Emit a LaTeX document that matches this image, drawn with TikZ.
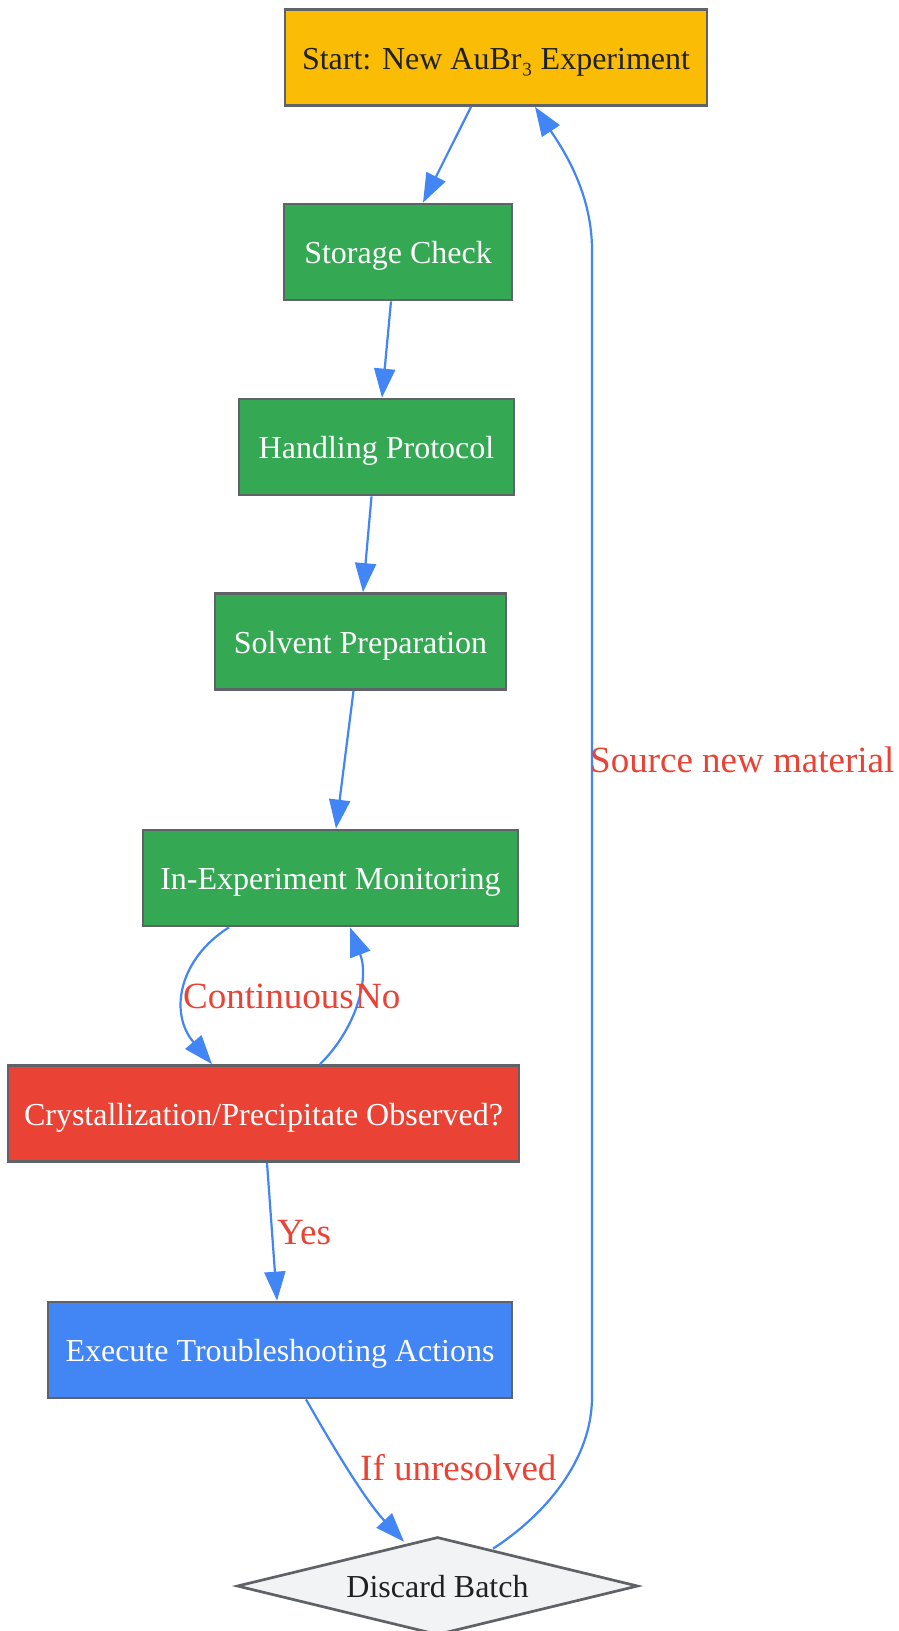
\documentclass[tikz,border=0pt]{standalone}
\usepackage{fontspec}
\setmainfont{Liberation Serif}
\usetikzlibrary{arrows.meta,shapes.geometric,calc}
\definecolor{cyellow}{HTML}{FBBC05}
\definecolor{cgreen}{HTML}{34A853}
\definecolor{cred}{HTML}{EA4335}
\definecolor{cblue}{HTML}{4285F4}
\definecolor{cgrayfill}{HTML}{F1F3F4}
\definecolor{cborder}{HTML}{5F6368}
\definecolor{cdark}{HTML}{202124}
\tikzset{
  box/.style={draw=cborder, line width=2.7pt, rectangle, inner sep=0pt,
    minimum height=96pt, text height=23pt, text depth=0pt,
    font=\fontsize{32}{36}\selectfont},
  startbox/.style={box, fill=cyellow, text=cdark},
  greenbox/.style={box, fill=cgreen, text=white},
  redbox/.style={box, fill=cred, text=white},
  bluebox/.style={box, fill=cblue, text=white},
  discardbox/.style={draw=cborder, line width=2.7pt, diamond, aspect=4.09, inner sep=0pt,
    fill=cgrayfill, text=cdark, minimum width=401pt, minimum height=98pt,
    text height=23pt, text depth=0pt, font=\fontsize{32}{36}\selectfont},
  flow/.style={draw=cblue, line width=2.2pt, -{Triangle[length=29pt,width=21pt]}},
  elabel/.style={text=cred, inner sep=0pt, font=\fontsize{37}{40}\selectfont},
}
\begin{document}
\begin{tikzpicture}[x=1pt,y=-1pt]
\useasboundingbox[fill=white] (0,0) rectangle (899,1631);

\node[startbox, minimum width=422pt] (start) at (496,57.5) {Start: New AuBr₃ Experiment};
\node[greenbox, minimum width=228pt] (storage) at (398,252) {Storage Check};
\node[greenbox, minimum width=275pt] (handling) at (376.5,447) {Handling Protocol};
\node[greenbox, minimum width=291pt] (solvent) at (360.5,641.5) {Solvent Preparation};
\node[greenbox, minimum width=375pt] (monitor) at (330.5,878) {In-Experiment Monitoring};
\node[redbox, minimum width=511pt] (cryst) at (263.5,1113.5) {Crystallization/Precipitate Observed?};
\node[bluebox, minimum width=464pt] (exec) at (280,1350) {Execute Troubleshooting Actions};
\node[discardbox] (discard) at (437.5,1586) {Discard Batch};

\draw[flow] ($(start.south)+(-25,0)$) -- ($(storage.north)+(25,0)$);
\draw[flow] ($(storage.south)+(-7,0)$) -- ($(handling.north)+(5.5,0)$);
\draw[flow] ($(handling.south)+(-5,0)$) -- ($(solvent.north)+(2.5,0)$);
\draw[flow] ($(solvent.south)+(-7,0)$) -- ($(monitor.north)+(5.5,0)$);

\draw[flow] ($(monitor.south)+(-101.5,0)$) .. controls (180,958) and (168,1012) .. ($(cryst.north)+(-51.5,0)$);
\draw[flow] ($(cryst.north)+(56.5,0)$) .. controls (355,1030) and (370,980) .. ($(monitor.south)+(19.5,0)$);

\draw[flow] ($(cryst.south)+(3.5,0)$) -- ($(exec.north)+(-3,0)$);
\draw[flow] ($(exec.south)+(26,0)$) .. controls (332,1445) and (365,1500) .. ($(discard.north)+(-33.5,6)$);

\coordinate (bendlow) at (592,1397);
\coordinate (bendhigh) at (592,250);
\draw[flow] ($(discard.north)+(55.5,13)$) .. controls (545,1515) and (592,1460) .. (bendlow)
  -- (bendhigh) .. controls (592,190) and (560,145) .. ($(start.south)+(39,0)$);

\node[elabel, anchor=base west] (lsource) at (590,772) {Source new material};
\node[elabel, anchor=base west] (lcont) at (183,1008) {Continuous};
\node[elabel, anchor=base west] (lno) at (355,1008) {No};
\node[elabel, anchor=base west] (lyes) at (277,1244) {Yes};
\node[elabel, anchor=base west] (lunres) at (360,1480) {If unresolved};
\end{tikzpicture}
\end{document}
